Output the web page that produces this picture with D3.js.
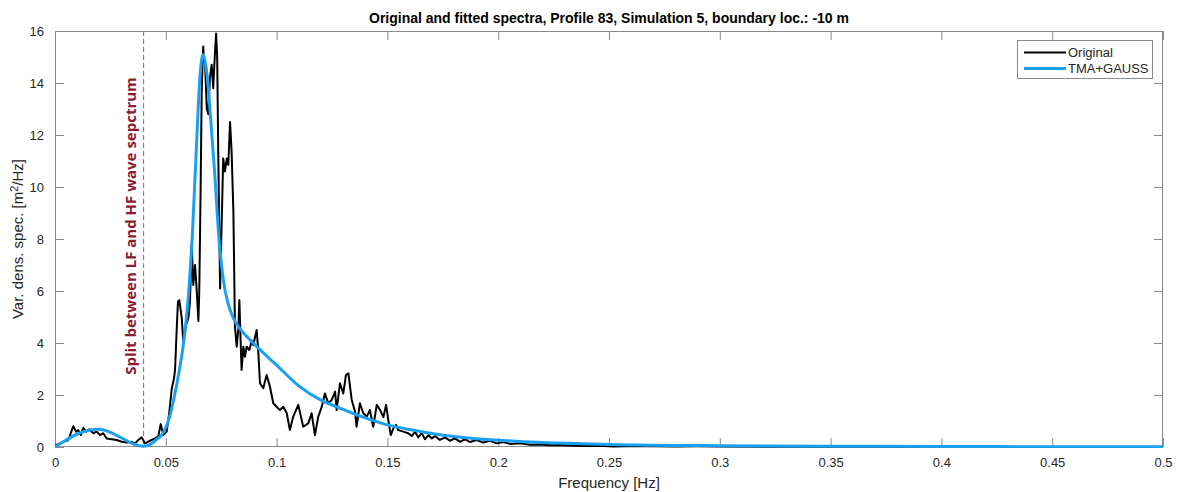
<!DOCTYPE html>
<html>
<head>
<meta charset="utf-8">
<script src="https://cdn.jsdelivr.net/npm/d3@7"></script>
<style>
  body { margin: 0; background: #fff; }
  svg text { font-family: Arial, "Liberation Sans", sans-serif; }
</style>
</head>
<body>
<svg id="chart" width="1178" height="492"></svg>
<script>
// Measured spectrum (frequency [Hz] / variance density [m^2/Hz])
const origFreq = [0, 0.0037, 0.0060, 0.0071, 0.0083, 0.0095, 0.0105, 0.0116, 0.0128, 0.0140,
  0.0155, 0.0173, 0.0188, 0.0203, 0.0218, 0.0233, 0.0256, 0.0278, 0.0301, 0.0324,
  0.0346, 0.0361, 0.0376, 0.0391, 0.0406, 0.0429, 0.0451, 0.0466, 0.0477, 0.0489,
  0.0504, 0.0516, 0.0527, 0.0537, 0.0542, 0.0549, 0.0555, 0.0561, 0.0572, 0.0579,
  0.0591, 0.0602, 0.0609, 0.0617, 0.0624, 0.0632, 0.0639, 0.0647, 0.0651, 0.0657,
  0.0662, 0.0667, 0.0669, 0.0672, 0.0677, 0.0685, 0.0692, 0.0699, 0.0707, 0.0714,
  0.0719, 0.0727, 0.0732, 0.0737, 0.0745, 0.0752, 0.0759, 0.0767, 0.0775, 0.0782,
  0.0790, 0.0797, 0.0805, 0.0812, 0.0820, 0.0827, 0.0832, 0.0838, 0.0842, 0.0850,
  0.0857, 0.0865, 0.0877, 0.0888, 0.0895, 0.0910, 0.0917, 0.0925, 0.0940, 0.0955,
  0.0970, 0.0985, 0.1000, 0.1015, 0.1030, 0.1046, 0.1060, 0.1075, 0.1098, 0.1120,
  0.1143, 0.1158, 0.1173, 0.1188, 0.1204, 0.1218, 0.1233, 0.1249, 0.1264, 0.1271,
  0.1286, 0.1301, 0.1313, 0.1324, 0.1339, 0.1354, 0.1361, 0.1376, 0.1391, 0.1407,
  0.1421, 0.1436, 0.1452, 0.1467, 0.1482, 0.1494, 0.1504, 0.1515, 0.1527, 0.1539,
  0.1549, 0.1572, 0.1594, 0.1610, 0.1625, 0.1639, 0.1655, 0.1670, 0.1685, 0.1700,
  0.1715, 0.1737, 0.1760, 0.1782, 0.1805, 0.1828, 0.1850, 0.1873, 0.1903, 0.1933,
  0.1963, 0.1993, 0.2023, 0.2053, 0.2098, 0.2143, 0.2189, 0.2234, 0.2279, 0.2339,
  0.2399, 0.2459, 0.2519, 0.2580, 0.27, 0.28, 0.29, 0.30, 0.32, 0.35,
  0.40, 0.45, 0.50];
const origVal = [0.05, 0.20, 0.27, 0.53, 0.80, 0.59, 0.65, 0.46, 0.74, 0.59,
  0.68, 0.53, 0.59, 0.46, 0.53, 0.33, 0.30, 0.27, 0.20, 0.17,
  0.20, 0.14, 0.27, 0.37, 0.14, 0.24, 0.33, 0.40, 0.88, 0.46,
  0.59, 1.36, 2.25, 2.64, 3.0, 4.5, 5.6, 5.65, 4.96, 4.05,
  4.69, 4.96, 5.59, 7.77, 6.23, 7.0, 6.1, 4.85, 5.97, 9.82,
  13.67, 15.0, 15.4, 14.82, 14.8, 13.0, 12.8, 14.2, 14.7, 13.8,
  14.7, 15.9, 14.95, 11.1, 6.1, 8.54, 11.1, 10.6, 11.1, 10.85,
  12.5, 11.36, 9.05, 4.63, 3.86, 4.5, 5.65, 3.99, 2.96, 3.86,
  3.47, 3.86, 3.73, 4.1, 3.92, 4.5, 3.73, 2.45, 2.26, 2.77,
  2.32, 1.68, 1.55, 1.42, 1.55, 1.30, 0.65, 1.17, 1.62, 0.78,
  0.91, 1.30, 0.46, 1.17, 1.55, 2.06, 1.68, 1.81, 2.13, 1.42,
  2.45, 2.06, 2.77, 2.83, 1.81, 1.36, 0.78, 1.68, 1.30, 1.17,
  1.42, 0.78, 1.62, 1.42, 1.15, 1.62, 1.04, 0.46, 0.72, 0.85,
  0.65, 0.59, 0.53, 0.42, 0.59, 0.37, 0.53, 0.30, 0.46, 0.33,
  0.42, 0.27, 0.37, 0.24, 0.33, 0.20, 0.30, 0.19, 0.27, 0.17,
  0.24, 0.14, 0.19, 0.12, 0.14, 0.09, 0.10, 0.07, 0.08, 0.05,
  0.04, 0.05, 0.02, 0.03, 0.03, 0.02, 0.025, 0.015, 0.01, 0.01,
  0.005, 0.004, 0.003];

// Fitted TMA + Gauss spectrum
const fitFreq = [0, 0.005, 0.01, 0.015, 0.02, 0.025, 0.03, 0.035, 0.04, 0.043,
  0.046, 0.048, 0.05, 0.052, 0.054, 0.056, 0.058, 0.060, 0.062, 0.064,
  0.065, 0.066, 0.0668, 0.068, 0.069, 0.070, 0.072, 0.074, 0.076, 0.078,
  0.080, 0.083, 0.086, 0.09, 0.1, 0.11, 0.12, 0.13, 0.14, 0.15,
  0.16, 0.17, 0.18, 0.19, 0.2, 0.22, 0.25, 0.3, 0.35, 0.4,
  0.45, 0.5];
const fitVal = [0, 0.27, 0.5, 0.64, 0.68, 0.56, 0.35, 0.13, 0.03, 0.1,
  0.3, 0.45, 0.75, 1.25, 2.0, 2.9, 4.0, 5.6, 8.2, 11.9,
  13.7, 14.8, 15.1, 14.7, 14.0, 12.9, 10.6, 8.0, 6.4, 5.55,
  5.05, 4.6, 4.3, 3.95, 3.15, 2.35, 1.8, 1.45, 1.12, 0.85,
  0.67, 0.52, 0.4, 0.32, 0.26, 0.17, 0.1, 0.05, 0.03, 0.02,
  0.012, 0.008];

const xTicks = [0, 0.05, 0.1, 0.15, 0.2, 0.25, 0.3, 0.35, 0.4, 0.45, 0.5];
const yTicks = [0, 2, 4, 6, 8, 10, 12, 14, 16];
const splitFreq = 0.04;
const seriesNames = ["Original", "TMA+GAUSS"];
const seriesColors = ["#000000", "#1aa0f2"];

const svg = d3.select("#chart");
const W = 1178, H = 492;
const m = { left: 55, right: 1163, top: 31, bottom: 447 };

svg.append("rect").attr("width", W).attr("height", H).attr("fill", "#fff");

const x = d3.scaleLinear().domain([0, 0.5]).range([m.left, m.right]);
const y = d3.scaleLinear().domain([0, 16]).range([m.bottom, m.top]);

svg.append("defs").append("clipPath").attr("id", "plotClip")
  .append("rect").attr("x", m.left).attr("y", m.top - 2)
  .attr("width", m.right - m.left).attr("height", m.bottom - m.top + 3);

const fmt = d3.format("~g");
const axisColor = "#8a8a8a";
const textColor = "#262626";

function styleAxis(g) {
  g.select(".domain").remove();
  g.selectAll(".tick line").attr("stroke", axisColor);
  g.selectAll(".tick text").attr("fill", textColor).style("font-size", "13px");
}

// bottom / top axes with inward ticks
svg.append("g").attr("transform", `translate(0,${m.bottom})`)
  .call(d3.axisBottom(x).tickValues(xTicks).tickFormat(fmt).tickSize(-9).tickSizeOuter(0).tickPadding(11))
  .call(styleAxis);
svg.append("g").attr("transform", `translate(0,${m.top})`)
  .call(d3.axisTop(x).tickValues(xTicks).tickFormat("").tickSize(-9).tickSizeOuter(0))
  .call(styleAxis);
// left / right axes
svg.append("g").attr("transform", `translate(${m.left},0)`)
  .call(d3.axisLeft(y).tickValues(yTicks).tickFormat(fmt).tickSize(-9).tickSizeOuter(0).tickPadding(11))
  .call(styleAxis);
svg.append("g").attr("transform", `translate(${m.right},0)`)
  .call(d3.axisRight(y).tickValues(yTicks).tickFormat("").tickSize(-9).tickSizeOuter(0))
  .call(styleAxis);

// frame
svg.append("rect").attr("x", m.left + 0.5).attr("y", m.top + 0.5)
  .attr("width", m.right - m.left - 1).attr("height", m.bottom - m.top - 1)
  .attr("fill", "none").attr("stroke", axisColor).attr("stroke-width", 1);

// split marker between LF and HF parts
svg.append("line")
  .attr("x1", x(splitFreq)).attr("x2", x(splitFreq))
  .attr("y1", m.top).attr("y2", m.bottom)
  .attr("stroke", "#707070").attr("stroke-width", 1).attr("stroke-dasharray", "5,3");

const splitX = x(splitFreq) - 8;
svg.append("text")
  .attr("transform", `translate(${splitX},226) rotate(-90)`)
  .attr("text-anchor", "middle")
  .style("font-family", "'Open Sans', sans-serif")
  .style("font-weight", "bold").style("font-size", "15px")
  .attr("fill", "#8c1a30")
  .text("Split between LF and HF wave sepctrum");

const plot = svg.append("g").attr("clip-path", "url(#plotClip)");

const origData = origFreq.map((f, i) => [f, origVal[i]]);
const fitData = fitFreq.map((f, i) => [f, fitVal[i]]);

plot.append("path").datum(origData)
  .attr("fill", "none").attr("stroke", seriesColors[0]).attr("stroke-width", 2)
  .attr("stroke-linejoin", "round")
  .attr("d", d3.line().x(d => x(d[0])).y(d => y(d[1])));

plot.append("path").datum(fitData)
  .attr("fill", "none").attr("stroke", seriesColors[1]).attr("stroke-width", 3)
  .attr("stroke-linejoin", "round")
  .attr("d", d3.line().curve(d3.curveMonotoneX).x(d => x(d[0])).y(d => y(d[1])));

// title and axis labels
svg.append("text").attr("x", (m.left + m.right) / 2).attr("y", 23)
  .attr("text-anchor", "middle").style("font-weight", "bold").style("font-size", "14px")
  .attr("fill", "#000")
  .text("Original and fitted spectra, Profile 83, Simulation 5, boundary loc.: -10 m");

svg.append("text").attr("x", (m.left + m.right) / 2).attr("y", 488)
  .attr("text-anchor", "middle").style("font-size", "15px").attr("fill", textColor)
  .text("Frequency [Hz]");

const yl = svg.append("text")
  .attr("transform", `translate(23,${(m.top + m.bottom) / 2}) rotate(-90)`)
  .attr("text-anchor", "middle").style("font-size", "15px").attr("fill", textColor);
yl.append("tspan").text("Var. dens. spec. [m");
yl.append("tspan").attr("dy", -5).style("font-size", "11px").text("2");
yl.append("tspan").attr("dy", 5).text("/Hz]");

// legend
const lg = svg.append("g").attr("transform", "translate(1017,40)");
lg.append("rect").attr("x", 0.5).attr("y", 0.5).attr("width", 135).attr("height", 38)
  .attr("fill", "#fff").attr("stroke", axisColor);
seriesNames.forEach((name, i) => {
  const yy = 12.5 + i * 16;
  lg.append("line").attr("x1", 7).attr("x2", 49).attr("y1", yy).attr("y2", yy)
    .attr("stroke", seriesColors[i]).attr("stroke-width", i === 0 ? 2 : 3);
  lg.append("text").attr("x", 51).attr("y", yy + 4.5)
    .style("font-size", "13px").attr("fill", textColor).text(name);
});
</script>
</body>
</html>
